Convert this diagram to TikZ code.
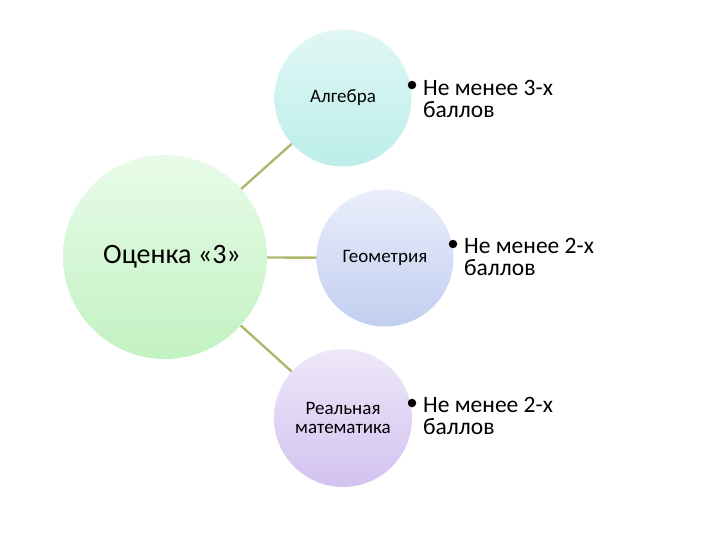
\documentclass[tikz,border=0pt]{standalone}
\usepackage{fontspec}
\setmainfont{Carlito}
\begin{document}
\begin{tikzpicture}[x=1pt,y=-1pt,
  bub/.style={circle,draw=none,inner sep=0pt,align=center,text=black},
  conn/.style={draw=connc,line width=2.4pt},
  bul/.style={circle,fill=black,draw=none,inner sep=0pt,minimum size=8.5pt},
  btxt/.style={anchor=north west,inner sep=0pt,align=left,text=black,font=\fontsize{23.5}{22}\selectfont}]
\definecolor{connc}{RGB}{176,182,108}
\definecolor{gtop}{RGB}{232,251,232}\definecolor{gbot}{RGB}{194,242,194}
\definecolor{atop}{RGB}{224,247,245}\definecolor{abot}{RGB}{188,238,234}
\definecolor{ptop}{RGB}{234,238,251}\definecolor{pbot}{RGB}{194,206,240}
\definecolor{rtop}{RGB}{238,232,249}\definecolor{rbot}{RGB}{210,194,240}
\useasboundingbox (0,0) rectangle (720,540);
\node[bub,minimum size=204pt,top color=gtop,bottom color=gbot,font=\fontsize{28}{28}\selectfont] (main) at (165,257) {\hspace*{14pt}Оценка «3»};
\node[bub,minimum size=137pt,top color=atop,bottom color=abot,font=\fontsize{19}{19}\selectfont] (alg) at (343,98) {Алгебра};
\node[bub,minimum size=137pt,top color=ptop,bottom color=pbot,font=\fontsize{19}{19}\selectfont] (geo) at (385,258) {Геометрия};
\node[bub,minimum size=138pt,top color=rtop,bottom color=rbot,font=\fontsize{19}{19}\selectfont] (real) at (343,418) {Реальная\\математика};
\draw[conn] (main) -- (alg);
\draw[conn] (main) -- (geo);
\draw[conn] (main) -- (real);
\node[bul] (ba) at (412,85) {};
\node[bul] (bg) at (453,244) {};
\node[bul] (br) at (412,403) {};
\node[btxt] (ta) at (423,80) {Не менее 3-х\\баллов};
\node[btxt] (tg) at (464,238) {Не менее 2-х\\баллов};
\node[btxt] (tr) at (423,397) {Не менее 2-х\\баллов};
\end{tikzpicture}
\end{document}
